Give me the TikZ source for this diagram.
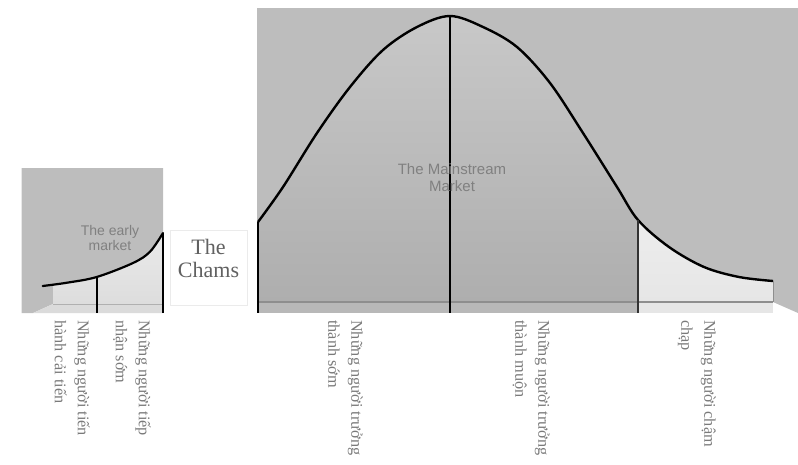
\documentclass[tikz,border=0pt]{standalone}
\usepackage{fontspec}
\setmainfont{Liberation Serif}
\newfontfamily\sansfont{Liberation Sans}
\definecolor{wallgray}{HTML}{BDBDBD}
\definecolor{midtop}{HTML}{C8C8C8}
\definecolor{midbot}{HTML}{AEAEAE}
\definecolor{floorgray}{HTML}{B8B8B8}
\definecolor{lightfloor}{HTML}{E6E6E6}
\definecolor{edgegray}{HTML}{8E8E8E}
\definecolor{lblgray}{HTML}{7A7A7A}
\definecolor{mktgray}{HTML}{808080}
\def\bellpts{(258,222) (283,187) (317,133) (350,87) (383,50) (417,27) (450,16) (483,27) (517,47) (550,83) (583,133) (617,187) (638,220) (669,247) (704,267) (739,277) (773,281)}
\def\earlypts{(42.7,286) (67,282.7) (96.7,277) (133,263) (150,251.7) (163,233)}
\edef\bellcurve{plot[smooth, tension=0.55] coordinates {\bellpts}}
\edef\bellfill{(258,302) -- plot[smooth, tension=0.55] coordinates {\bellpts} -- (773,302) -- cycle}
\edef\earlycurve{plot[smooth, tension=0.55] coordinates {\earlypts}}
\edef\earlyfill{(42.7,304) -- plot[smooth, tension=0.55] coordinates {\earlypts} -- (163,304) -- cycle}
\begin{document}
\begin{tikzpicture}[x=1pt, y=-1pt,
  lbl/.style={rotate=-90, anchor=north west, align=left, inner sep=0pt,
              text=lblgray, font=\fontsize{16.3}{23}\selectfont},
  mkt/.style={align=center, inner sep=0pt, text=mktgray},
  divline/.style={line width=2.6pt},
]
\useasboundingbox (0,0) rectangle (798,464);

% ---- 主市场：背景墙和地面 ----
\fill[wallgray] (257,8) -- (798,8) -- (798,313) -- (773,302) -- (257,302) -- cycle;
\fill[floorgray] (257,302) rectangle (638,313);
\fill[lightfloor] (638,302) rectangle (773,313);

% ---- 钟形曲线下方阴影 ----
\begin{scope}
  \clip (258,0) rectangle (638,302);
  \shade[top color=midtop, bottom color=midbot] \bellfill;
\end{scope}
\begin{scope}
  \clip (638,0) rectangle (773,302);
  \shade[top color=white, bottom color=lightfloor] \bellfill;
\end{scope}
\draw[edgegray, line width=1.4pt] (258,302) -- (773,302);
\draw[edgegray, line width=1pt] (773,281) -- (773,302);

% ---- 画钟形曲线 ----
\draw[line width=2.4pt, line join=round] \bellcurve;

% ---- 分隔线 ----
\draw[divline] (258,222) -- (258,313);
\draw[divline, line width=2.8pt] (450,16) -- (450,313);
\draw[divline, line width=2.2pt, black!80] (638,220) -- (638,313);

% ---- 早期市场 ----
\fill[wallgray] (21.7,168) -- (163,168) -- (163,304) -- (53,304) -- (33,313) -- (21.7,313) -- cycle;
\fill[lightfloor!95!black] (53,304) -- (163,304) -- (163,313) -- (33,313) -- cycle;
\begin{scope}
  \clip (53,0) rectangle (163,304);
  \shade[top color=white!92!black, bottom color=lightfloor!96!black] \earlyfill;
\end{scope}
\draw[edgegray!70, line width=1pt] (53,304) -- (163,304);
\draw[line width=2.2pt, line cap=round] \earlycurve;
\draw[line width=2.2pt] (96.7,277) -- (96.7,313);
\draw[line width=1.6pt] (163,233) -- (163,313);

% ---- The Chams 方框 ----
\draw[black!8, fill=white] (170,230) rectangle (247,305);
\node[inner sep=0pt, align=center, text=black!62, font=\fontsize{22}{23}\selectfont] (chams) at (208.5,258) {The\\Chams};

% ---- 市场名称 ----
\node[mkt, font=\sansfont\fontsize{14}{15}\selectfont] (early) at (110,238) {The early\\market};
\node[mkt, font=\sansfont\fontsize{15}{17}\selectfont] (mainstream) at (452,178) {The Mainstream\\Market};

% ---- 竖排标签 ----
\foreach \lx/\ltext/\lname in {
    90/{Những người tiến\\hành cải tiến}/innovators,
    151/{Những người tiếp\\nhận sớm}/adopters,
    363/{Những người trưởng\\thành sớm}/earlymajority,
    550/{Những người trưởng\\thành muộn}/latemajority,
    716/{Những người chậm\\chạp}/laggards} {
  \node[lbl] (\lname) at (\lx,320) {\ltext};
}
\end{tikzpicture}
\end{document}
